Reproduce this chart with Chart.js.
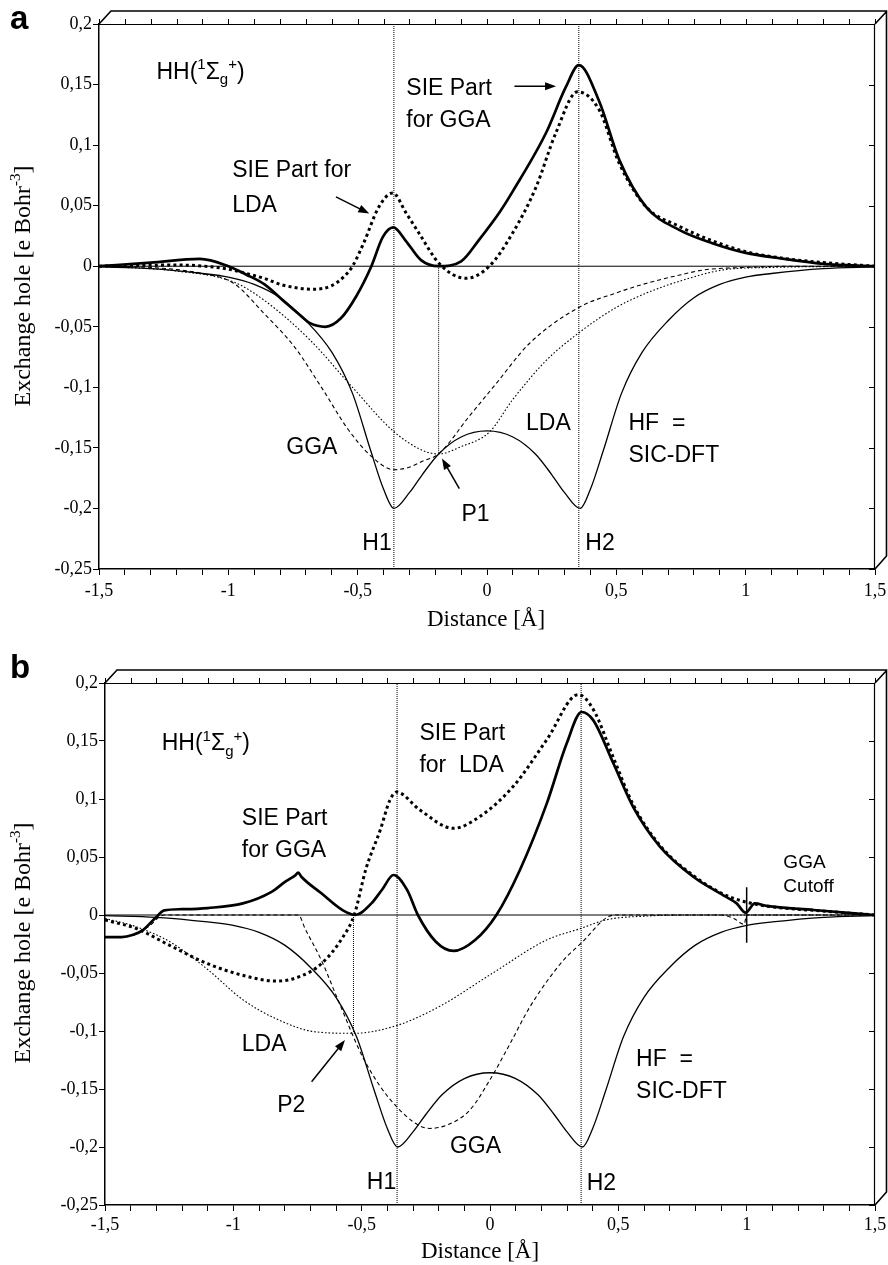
<!DOCTYPE html>
<html>
<head>
<meta charset="utf-8">
<script src="https://cdn.jsdelivr.net/npm/chart.js@4.4.1/dist/chart.umd.min.js"></script>
<style>
html,body{margin:0;padding:0;background:#fff;}
body{width:888px;height:1265px;position:relative;overflow:hidden;}
canvas{position:absolute;left:0;}
#ca{top:0;}
#cb{top:625px;}
</style>
</head>
<body>
<canvas id="ca" width="888" height="640"></canvas>
<canvas id="cb" width="888" height="640"></canvas>
<script>
// ---------- tick labels ----------
const xLabelValues = [-1.5, -1, -0.5, 0, 0.5, 1, 1.5];
const xLabelTexts  = ['-1,5', '-1', '-0,5', '0', '0,5', '1', '1,5'];
const yLabelValues = [0.2, 0.15, 0.1, 0.05, 0, -0.05, -0.1, -0.15, -0.2, -0.25];
const yLabelTexts  = ['0,2', '0,15', '0,1', '0,05', '0', '-0,05', '-0,1', '-0,15', '-0,2', '-0,25'];

// ---------- HF = SIC-DFT exact hole (same in both panels) ----------
const hfX = [-1.5,-1.3,-1.1,-1.0,-0.9,-0.8,-0.7,-0.6,-0.52,-0.45,-0.4,-0.36,-0.3,-0.25,-0.187,-0.1,0,0.1,0.187,0.25,0.3,0.36,0.4,0.45,0.52,0.6,0.7,0.8,0.9,1.0,1.1,1.3,1.5];
const hfY = [-0.0005,-0.002,-0.006,-0.009,-0.015,-0.026,-0.045,-0.071,-0.105,-0.152,-0.184,-0.2,-0.187,-0.172,-0.155,-0.141,-0.136,-0.141,-0.155,-0.172,-0.187,-0.2,-0.184,-0.152,-0.105,-0.071,-0.045,-0.026,-0.015,-0.009,-0.006,-0.002,-0.0005];

// ---------- panel a ----------
const sieGgaAX = [-1.5,-1.3,-1.11,-1.0,-0.93,-0.86,-0.79,-0.714,-0.684,-0.625,-0.565,-0.506,-0.447,-0.403,-0.362,-0.314,-0.255,-0.187,-0.1,-0.03,0.05,0.1,0.228,0.305,0.355,0.434,0.511,0.615,0.743,0.871,1.0,1.13,1.3,1.5];
const sieGgaAY = [0,0.003,0.006,0,-0.007,-0.015,-0.028,-0.042,-0.047,-0.05,-0.043,-0.025,0,0.024,0.032,0.021,0.005,0,0.004,0.022,0.045,0.062,0.11,0.148,0.166,0.136,0.088,0.049,0.03,0.019,0.011,0.0066,0.002,0];
const sieLdaAX = [-1.5,-1.2,-1.01,-0.93,-0.862,-0.787,-0.67,-0.6,-0.55,-0.52,-0.477,-0.418,-0.364,-0.313,-0.262,-0.184,-0.081,0.009,0.098,0.189,0.266,0.35,0.434,0.511,0.615,0.743,0.871,1.0,1.13,1.3,1.5];
const sieLdaAY = [0,0.001,-0.002,-0.006,-0.010,-0.0157,-0.019,-0.016,-0.008,0,0.019,0.049,0.0605,0.044,0.027,0.002,-0.01,0,0.027,0.065,0.11,0.144,0.129,0.085,0.049,0.033,0.021,0.012,0.007,0.003,0];
const ggaAX = [-1.5,-1.3,-1.1,-0.98,-0.862,-0.743,-0.64,-0.536,-0.447,-0.36,-0.3,-0.25,-0.187,-0.069,0.035,0.163,0.355,0.5,0.618,0.75,0.84,1.0,1.2,1.5];
const ggaAY = [0,-0.001,-0.006,-0.014,-0.039,-0.067,-0.1,-0.135,-0.157,-0.168,-0.166,-0.161,-0.155,-0.124,-0.097,-0.064,-0.034,-0.022,-0.014,-0.007,-0.003,-0.001,0,0];
const ldaAX = [-1.5,-1.2,-0.98,-0.862,-0.684,-0.52,-0.363,-0.25,-0.187,-0.1,0.009,0.1,0.228,0.355,0.5,0.618,0.75,0.914,1.1,1.5];
const ldaAY = [0,-0.004,-0.013,-0.028,-0.061,-0.1,-0.136,-0.152,-0.155,-0.149,-0.137,-0.11,-0.078,-0.055,-0.034,-0.022,-0.012,-0.003,-0.001,0];
const nucleiAX = [-0.36, 0.355];
const pointP1 = [-0.187, -0.155];

// ---------- panel b ----------
const sieGgaBX = [-1.5,-1.436,-1.39,-1.352,-1.297,-1.269,-1.2,-1.1,-0.963,-0.851,-0.796,-0.76,-0.747,-0.735,-0.657,-0.573,-0.524,-0.462,-0.42,-0.376,-0.323,-0.281,-0.211,-0.142,-0.058,0.025,0.117,0.221,0.299,0.357,0.402,0.48,0.558,0.662,0.792,0.909,0.961,0.996,1.032,1.078,1.26,1.5];
const sieGgaBY = [-0.019,-0.019,-0.017,-0.013,-0.001,0.004,0.005,0.006,0.010,0.020,0.029,0.034,0.0365,0.033,0.0187,0.004,0,0.010,0.022,0.0345,0.0216,0,-0.023,-0.031,-0.0216,0,0.039,0.096,0.148,0.175,0.168,0.131,0.093,0.059,0.033,0.017,0.010,0.002,0.010,0.0078,0.0043,0];
const sieLdaBX = [-1.5,-1.38,-1.241,-1.1,-0.963,-0.831,-0.74,-0.657,-0.573,-0.529,-0.483,-0.428,-0.39,-0.364,-0.273,-0.143,-0.039,0.091,0.221,0.344,0.403,0.48,0.558,0.662,0.792,0.909,1.0,1.1,1.26,1.5];
const sieLdaBY = [-0.0043,-0.0115,-0.027,-0.042,-0.052,-0.057,-0.053,-0.042,-0.019,0,0.04,0.073,0.099,0.106,0.0905,0.0747,0.085,0.111,0.151,0.19,0.177,0.136,0.095,0.06,0.034,0.018,0.011,0.007,0.004,0];
const ggaBX = [-1.5,-1.4,-1.33,-1.29,-1.27,-0.76,-0.747,-0.72,-0.657,-0.587,-0.49,-0.365,-0.234,-0.156,-0.078,0,0.078,0.156,0.286,0.357,0.456,0.5,0.9,0.95,0.99,1.0,1.5];
const ggaBY = [-0.019,-0.018,-0.01,-0.002,0,0,0,-0.012,-0.039,-0.076,-0.125,-0.165,-0.184,-0.18,-0.168,-0.142,-0.111,-0.079,-0.039,-0.024,-0.002,0,0,-0.003,-0.008,0,0];
const ldaBX = [-1.5,-1.38,-1.24,-1.1,-0.963,-0.823,-0.684,-0.531,-0.365,-0.198,0.011,0.22,0.355,0.456,0.6,0.8,1.0,1.5];
const ldaBY = [-0.003,-0.010,-0.024,-0.047,-0.073,-0.0905,-0.1006,-0.102,-0.0954,-0.079,-0.05,-0.0216,-0.0115,-0.004,-0.001,0,0,0];
const nucleiBX = [-0.362, 0.355];
const pointP2 = [-0.532, -0.101];
const cutoffB = [1.0, 0.024, -0.024];

// ---------- helpers ----------
const SERIF = '"Liberation Serif", "Times New Roman", serif';
const SANS = '"Liberation Sans", Arial, Helvetica, sans-serif';
const Y_MIN = -0.25, Y_MAX = 0.2, X_MIN = -1.5, X_MAX = 1.5;

function pts(xs, ys) { return xs.map((x, i) => ({x: x, y: ys[i]})); }
const STY = {
  thickSolid: {borderWidth: 2.7, borderDash: [], mode: 'monotone'},
  thickDot:   {borderWidth: 3, borderDash: [3, 3.2], mode: 'monotone'},
  thinSolid:  {borderWidth: 1.3, borderDash: [], mode: 'monotone'},
  thinDash:   {borderWidth: 1.1, borderDash: [4, 3], mode: 'monotone'},
  thinDot:    {borderWidth: 1.1, borderDash: [1.6, 2], mode: 'monotone'},
  ref:        {borderWidth: 1, borderDash: [1, 1], mode: 'default'},
  plain:      {borderWidth: 1, borderDash: [], mode: 'default'},
  cut:        {borderWidth: 1.5, borderDash: [], mode: 'default'}
};
function ds(data, s) {
  return {data: data, showLine: true, pointRadius: 0, borderColor: '#000', backgroundColor: '#000',
    borderWidth: s.borderWidth, borderDash: s.borderDash, cubicInterpolationMode: s.mode, tension: 0,
    borderCapStyle: 'butt', fill: false};
}
function xLabel(v) {
  const i = xLabelValues.findIndex(q => Math.abs(q - v) < 1e-6);
  return i >= 0 ? xLabelTexts[i] : '';
}
function yLabel(v) {
  const i = yLabelValues.findIndex(q => Math.abs(q - v) < 1e-6);
  return i >= 0 ? yLabelTexts[i] : '';
}

function drawRich(ctx, parts, x, y, base, family) {
  let cx = x;
  parts.forEach(p => {
    const size = p.s ? Math.round(base * 0.64) : base;
    ctx.font = size + 'px ' + family;
    const dy = p.s === 1 ? -base * 0.42 : (p.s === -1 ? base * 0.24 : 0);
    ctx.fillText(p.t, cx, y + dy);
    cx += ctx.measureText(p.t).width;
  });
  return cx - x;
}
function richWidth(ctx, parts, base, family) {
  let w = 0;
  parts.forEach(p => {
    const size = p.s ? Math.round(base * 0.64) : base;
    ctx.font = size + 'px ' + family;
    w += ctx.measureText(p.t).width;
  });
  return w;
}
function arrow(ctx, x1, y1, x2, y2) {
  const ang = Math.atan2(y2 - y1, x2 - x1), L = 11, W = 4;
  ctx.beginPath();
  ctx.lineWidth = 1.5;
  ctx.moveTo(x1, y1);
  ctx.lineTo(x2 - Math.cos(ang) * L * 0.8, y2 - Math.sin(ang) * L * 0.8);
  ctx.stroke();
  ctx.beginPath();
  ctx.moveTo(x2, y2);
  ctx.lineTo(x2 - Math.cos(ang) * L - Math.sin(ang) * W, y2 - Math.sin(ang) * L + Math.cos(ang) * W);
  ctx.lineTo(x2 - Math.cos(ang) * L + Math.sin(ang) * W, y2 - Math.sin(ang) * L - Math.cos(ang) * W);
  ctx.closePath();
  ctx.fill();
}

const HH_PARTS = [{t: 'HH('}, {t: '1', s: 1}, {t: 'Σ'}, {t: 'g', s: -1}, {t: '+', s: 1}, {t: ')'}];
const YTITLE_PARTS = [{t: 'Exchange hole [e Bohr'}, {t: '-3', s: 1}, {t: ']'}];

function makeDecor(cfg) {
  return {
    id: 'decor',
    afterDraw(chart) {
      const ctx = chart.ctx, xs = chart.scales.x, ys = chart.scales.y, a = chart.chartArea;
      const X = v => xs.getPixelForValue(v), Y = v => ys.getPixelForValue(v);
      ctx.save();
      ctx.strokeStyle = '#000'; ctx.fillStyle = '#000'; ctx.setLineDash([]);
      // top & right frame
      ctx.lineWidth = 1.2;
      ctx.beginPath();
      ctx.moveTo(a.left, a.top + 0.5); ctx.lineTo(a.right, a.top + 0.5);
      ctx.moveTo(a.right - 0.5, a.top); ctx.lineTo(a.right - 0.5, a.bottom);
      ctx.stroke();
      ctx.lineWidth = 1;
      ctx.beginPath();
      xs.ticks.forEach(t => {
        const px = Math.round(X(t.value)) + 0.5;
        ctx.moveTo(px, a.top); ctx.lineTo(px, a.top - 5);
      });
      ys.ticks.forEach(t => {
        const py = Math.round(Y(t.value)) + 0.5;
        ctx.moveTo(a.right, py); ctx.lineTo(a.right - 6, py);
      });
      ctx.stroke();
      // 3D box
      const dx = 12, dy = 13;
      ctx.lineWidth = 1.6;
      ctx.beginPath();
      ctx.moveTo(a.left, a.top); ctx.lineTo(a.left + dx, a.top - dy);
      ctx.lineTo(a.right + dx - 0.5, a.top - dy); ctx.lineTo(a.right + dx - 0.5, a.bottom - dy);
      ctx.lineTo(a.right, a.bottom);
      ctx.moveTo(a.right, a.top); ctx.lineTo(a.right + dx, a.top - dy);
      ctx.stroke();
      // panel letter
      ctx.font = 'bold 33px ' + SANS;
      ctx.textAlign = 'left'; ctx.textBaseline = 'alphabetic';
      ctx.fillText(cfg.letter, 10, cfg.letterY);
      // axis titles
      ctx.font = '23px ' + SERIF;
      ctx.textAlign = 'center';
      ctx.fillText('Distance [Å]', cfg.xTitleX, cfg.xTitleY);
      ctx.textAlign = 'left';
      ctx.save();
      ctx.translate(30, cfg.yTitleY);
      ctx.rotate(-Math.PI / 2);
      const w = richWidth(ctx, YTITLE_PARTS, 24, SERIF);
      drawRich(ctx, YTITLE_PARTS, -w / 2, 0, 24, SERIF);
      ctx.restore();
      // HH label
      drawRich(ctx, HH_PARTS, X(cfg.hh[0]), Y(cfg.hh[1]), 23, SANS);
      // texts
      cfg.texts.forEach(o => {
        ctx.font = (o.size || 23) + 'px ' + SANS;
        ctx.fillText(o.t, X(o.x), Y(o.y));
      });
      // arrows
      cfg.arrows.forEach(r => arrow(ctx, X(r[0]), Y(r[1]), X(r[2]), Y(r[3])));
      ctx.restore();
    }
  };
}

function buildChart(id, datasets, geom, decor) {
  return new Chart(document.getElementById(id), {
    type: 'scatter',
    data: {datasets: datasets},
    options: {
      responsive: false, animation: false, devicePixelRatio: 1, events: [],
      layout: {padding: {left: 0, right: 13, top: geom.padTop, bottom: 0}},
      plugins: {legend: {display: false}, tooltip: {enabled: false}},
      scales: {
        x: {
          type: 'linear', min: X_MIN, max: X_MAX, position: 'bottom',
          afterFit: s => { s.height = geom.xAxisH; s.paddingLeft = 0; s.paddingRight = 0; },
          ticks: {stepSize: 0.1, autoSkip: false, maxRotation: 0, minRotation: 0, padding: geom.xTickPad,
            color: '#000', font: {family: SERIF, size: 18}, callback: v => xLabel(v)},
          grid: {drawOnChartArea: false, drawTicks: true, tickLength: 6, color: '#000', lineWidth: 1},
          border: {display: true, color: '#000', width: 1.5}
        },
        y: {
          type: 'linear', min: Y_MIN, max: Y_MAX, position: 'left',
          afterFit: s => { s.width = geom.yAxisW; s.paddingTop = 0; s.paddingBottom = 0; },
          ticks: {stepSize: 0.05, autoSkip: false, padding: 1, color: '#000',
            font: {family: SERIF, size: 18}, callback: v => yLabel(v)},
          grid: {drawOnChartArea: false, drawTicks: true, tickLength: 6, color: '#000', lineWidth: 1},
          border: {display: true, color: '#000', width: 1.5}
        }
      }
    },
    plugins: [decor]
  });
}

// ---------- panel a ----------
const dsA = [
  ds(pts([X_MIN, X_MAX], [0, 0]), STY.plain),
  ds(pts([nucleiAX[0], nucleiAX[0]], [Y_MIN, Y_MAX]), STY.ref),
  ds(pts([nucleiAX[1], nucleiAX[1]], [Y_MIN, Y_MAX]), STY.ref),
  ds(pts([pointP1[0], pointP1[0]], [0, pointP1[1]]), STY.ref),
  ds(pts(hfX, hfY), STY.thinSolid),
  ds(pts(ggaAX, ggaAY), STY.thinDash),
  ds(pts(ldaAX, ldaAY), STY.thinDot),
  ds(pts(sieGgaAX, sieGgaAY), STY.thickSolid),
  ds(pts(sieLdaAX, sieLdaAY), STY.thickDot)
];
buildChart('ca', dsA, {padTop: 24, xAxisH: 71, yAxisW: 99, xTickPad: 5}, makeDecor({
  letter: 'a', letterY: 29, xTitleX: 486, xTitleY: 626, yTitleY: 286,
  hh: [-1.278, 0.155],
  texts: [
    {t: 'SIE Part for', x: -0.985, y: 0.0735},
    {t: 'LDA', x: -0.985, y: 0.0446},
    {t: 'SIE Part', x: -0.312, y: 0.141},
    {t: 'for GGA', x: -0.312, y: 0.115},
    {t: 'GGA', x: -0.776, y: -0.155},
    {t: 'H1', x: -0.482, y: -0.2345},
    {t: 'P1', x: -0.099, y: -0.21},
    {t: 'LDA', x: 0.151, y: -0.1354},
    {t: 'HF  =', x: 0.547, y: -0.1354},
    {t: 'SIC-DFT', x: 0.547, y: -0.162},
    {t: 'H2', x: 0.38, y: -0.2345}
  ],
  arrows: [
    [-0.584, 0.0572, -0.455, 0.0435],
    [0.106, 0.1486, 0.267, 0.1486],
    [-0.107, -0.1836, -0.174, -0.1588]
  ]
}));

// ---------- panel b ----------
const dsB = [
  ds(pts([X_MIN, X_MAX], [0, 0]), STY.plain),
  ds(pts([nucleiBX[0], nucleiBX[0]], [Y_MIN, Y_MAX]), STY.ref),
  ds(pts([nucleiBX[1], nucleiBX[1]], [Y_MIN, Y_MAX]), STY.ref),
  ds(pts([pointP2[0], pointP2[0]], [0, pointP2[1]]), STY.ref),
  ds(pts([cutoffB[0], cutoffB[0]], [cutoffB[1], cutoffB[2]]), STY.cut),
  ds(pts(hfX, hfY), STY.thinSolid),
  ds(pts(ggaBX, ggaBY), STY.thinDash),
  ds(pts(ldaBX, ldaBY), STY.thinDot),
  ds(pts(sieGgaBX, sieGgaBY), STY.thickSolid),
  ds(pts(sieLdaBX, sieLdaBY), STY.thickDot)
];
buildChart('cb', dsB, {padTop: 58, xAxisH: 60, yAxisW: 105, xTickPad: 3}, makeDecor({
  letter: 'b', letterY: 53, xTitleX: 480, xTitleY: 633, yTitleY: 318,
  hh: [-1.279, 0.142],
  texts: [
    {t: 'SIE Part', x: -0.967, y: 0.0776},
    {t: 'for GGA', x: -0.967, y: 0.0503},
    {t: 'SIE Part', x: -0.275, y: 0.151},
    {t: 'for  LDA', x: -0.275, y: 0.1236},
    {t: 'GGA', x: 1.143, y: 0.0403, size: 19},
    {t: 'Cutoff', x: 1.143, y: 0.0201, size: 19},
    {t: 'LDA', x: -0.967, y: -0.117},
    {t: 'P2', x: -0.829, y: -0.1695},
    {t: 'H1', x: -0.48, y: -0.2365},
    {t: 'GGA', x: -0.156, y: -0.205},
    {t: 'H2', x: 0.377, y: -0.237},
    {t: 'HF  =', x: 0.569, y: -0.13},
    {t: 'SIC-DFT', x: 0.569, y: -0.1575}
  ],
  arrows: [
    [-0.695, -0.1437, -0.565, -0.1078]
  ]
}));
</script>
</body>
</html>
